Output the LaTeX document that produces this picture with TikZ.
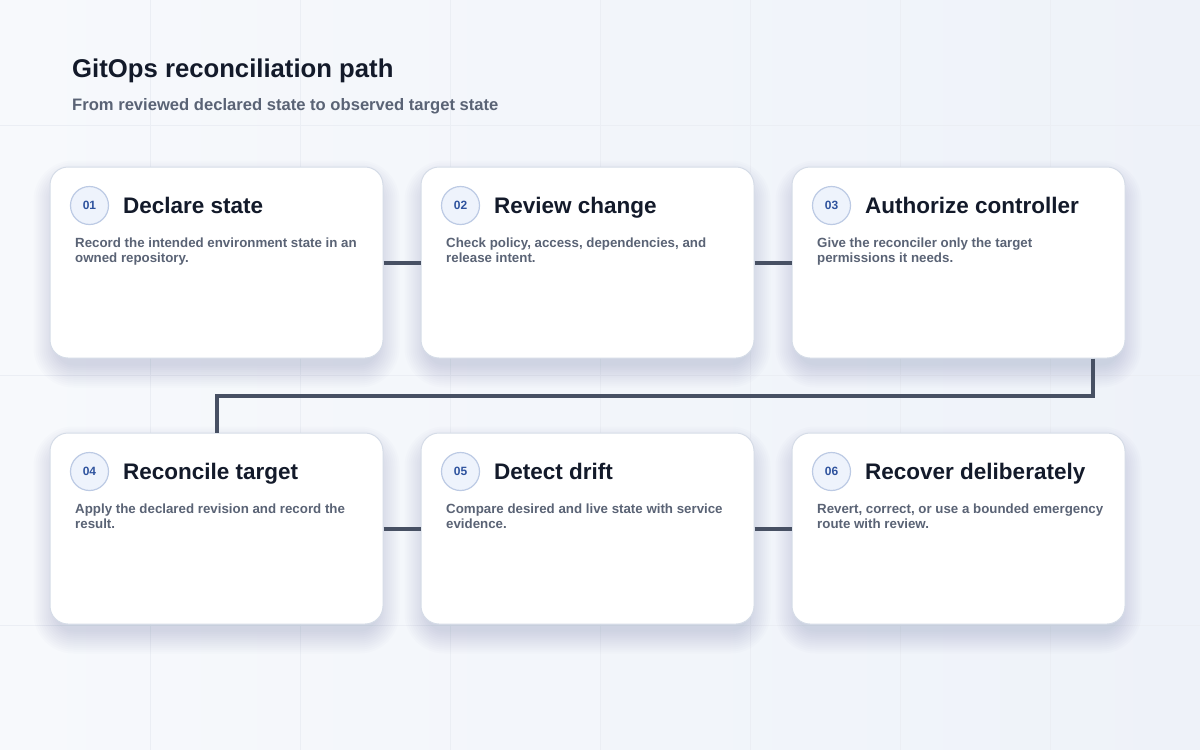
\documentclass[tikz,border=0pt]{standalone}
\usepackage{fontspec}
\setmainfont{Liberation Sans}
\usetikzlibrary{calc}
\pgfdeclarelayer{bg}
\pgfdeclarelayer{shadow}
\pgfsetlayers{bg,shadow,main}
\definecolor{bgL}{HTML}{F7F9FC}
\definecolor{bgR}{HTML}{EEF2F9}
\definecolor{gridc}{HTML}{EBEEF4}
\definecolor{cardborder}{HTML}{D5DCE7}
\definecolor{titlec}{HTML}{131A2A}
\definecolor{bodyc}{HTML}{5A6375}
\definecolor{numc}{HTML}{2F539E}
\definecolor{circfill}{HTML}{EEF3FC}
\definecolor{circdraw}{HTML}{BCCAE4}
\definecolor{linkc}{HTML}{475063}
\definecolor{shadowc}{HTML}{4A5A80}
\tikzset{
  card/.style={draw=cardborder, line width=1pt, fill=white, rounded corners=18pt,
    minimum width=333pt, minimum height=191pt, inner sep=0pt},
  numbadge/.style={circle, draw=circdraw, line width=1.2pt, fill=circfill,
    minimum size=38pt, inner sep=0pt, text=numc, font=\fontsize{12}{12}\selectfont\bfseries},
  cardtitle/.style={anchor=base west, inner sep=0pt, text=titlec,
    font=\fontsize{22.5}{26}\selectfont\bfseries},
  cardbody/.style={anchor=base west, inner sep=0pt, text=bodyc, align=left,
    font=\fontsize{13.3}{15}\selectfont\bfseries},
  link/.style={draw=linkc, line width=4pt},
  shadowlayer/.style={fill=shadowc, fill opacity=0.015}
}
\begin{document}
\begin{tikzpicture}[x=1pt,y=-1pt]
\useasboundingbox (0,0) rectangle (1200,750);
\begin{pgfonlayer}{bg}
\shade[left color=bgL, right color=bgR] (0,0) rectangle (1200,750);
\foreach \gx in {150,300,...,1050} \draw[gridc, line width=0.8pt] (\gx,0) -- (\gx,750);
\foreach \gy in {125,375,625} \draw[gridc, line width=0.8pt] (0,\gy) -- (1200,\gy);
\end{pgfonlayer}

\node[anchor=base west, inner sep=0pt, text=titlec, font=\fontsize{25.7}{30}\selectfont\bfseries]
  (title) at (72,77) {GitOps reconciliation path};
\node[anchor=base west, inner sep=0pt, text=bodyc, font=\fontsize{16.6}{20}\selectfont\bfseries]
  (subtitle) at (72,110) {From reviewed declared state to observed target state};

\node[card] (c1) at (216.5,262.5) {};
\node[card] (c2) at (587.5,262.5) {};
\node[card] (c3) at (958.5,262.5) {};
\node[card] (c4) at (216.5,528.5) {};
\node[card] (c5) at (587.5,528.5) {};
\node[card] (c6) at (958.5,528.5) {};

\begin{pgfonlayer}{shadow}
\foreach \c in {c1,c2,c3,c4,c5,c6} {
  \foreach \k in {0,2,...,22} {
    \fill[shadowlayer, rounded corners={18pt+\k pt}]
      ($(\c.north west)+({-\k+6},{-\k+16})$) rectangle ($(\c.south east)+({\k-6},{\k+7})$);
  }
}
\end{pgfonlayer}

\foreach \c/\n/\t/\ba/\bb in {
  c1/01/Declare state/Record the intended environment state in an/owned repository.,
  c2/02/Review change/{Check policy, access, dependencies, and}/release intent.,
  c3/03/Authorize controller/Give the reconciler only the target/permissions it needs.,
  c4/04/Reconcile target/Apply the declared revision and record the/result.,
  c5/05/Detect drift/Compare desired and live state with service/evidence.,
  c6/06/Recover deliberately/{Revert, correct, or use a bounded emergency}/route with review.} {
  \node[numbadge] (\c-num) at ($(\c.north west)+(40,39)$) {\n};
  \node[cardtitle] (\c-title) at ($(\c.north west)+(73.5,46.5)$) {\t};
  \node[cardbody] (\c-body) at ($(\c.north west)+(25.5,95.5)$) {\ba\\\bb};
}

\draw[link] (c1.east) -- (c2.west);
\draw[link] (c2.east) -- (c3.west);
\draw[link] (c4.east) -- (c5.west);
\draw[link] (c5.east) -- (c6.west);
\draw[link] ($(c3.south east)+(-33,0)$) -- ++(0,37) -| (c4.north);
\end{tikzpicture}
\end{document}
